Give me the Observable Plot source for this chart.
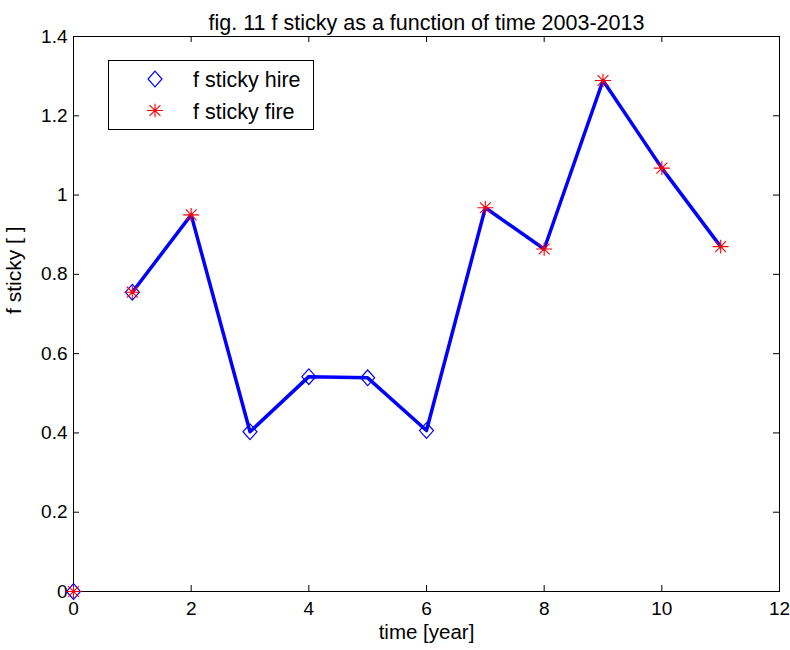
<!DOCTYPE html>
<html><head><meta charset="utf-8">
<script src="https://cdn.jsdelivr.net/npm/d3@7"></script>
<script src="https://cdn.jsdelivr.net/npm/@observablehq/plot@0.6"></script>
<style>body{margin:0;background:#fff}</style>
</head><body><div id="chart"></div>
<script>
const years = [0, 1, 2, 3, 4, 5, 6, 7, 8, 9, 10, 11];
const fSticky = [0, 0.755, 0.950, 0.403, 0.542, 0.539, 0.406, 0.968, 0.864, 1.289, 1.068, 0.870];
const hireYears = [0, 1, 3, 4, 5, 6];
const fireYears = [0, 1, 2, 7, 8, 9, 10, 11];
const lineYears = [1, 2, 3, 4, 5, 6, 7, 8, 9, 10, 11];
const xTicks = [0, 2, 4, 6, 8, 10, 12];
const yTicks = [0, 0.2, 0.4, 0.6, 0.8, 1, 1.2, 1.4];
const yTickLabels = ["0", "0.2", "0.4", "0.6", "0.8", "1", "1.2", "1.4"];
const titleText = "fig. 11 f sticky as a function of time 2003-2013";
const xLabel = "time [year]";
const yLabel = "f sticky [ ]";
const legendLabels = ["f sticky hire", "f sticky fire"];

const rows = years.map((t, i) => ({t, v: fSticky[i]}));
const pick = (ys) => rows.filter(d => ys.includes(d.t));

const W = 790, H = 650, ML = 73, MR = 11, MT = 36, MB = 59;
const FW = W - ML - MR, FH = H - MT - MB;
const FONT = "'Liberation Sans', Arial, Helvetica, sans-serif";

const diamondSym = {
  draw(ctx, size) {
    const r = Math.sqrt(size / Math.PI);
    const h = r * 1.12;
    ctx.moveTo(0, -h); ctx.lineTo(r, 0); ctx.lineTo(0, h); ctx.lineTo(-r, 0); ctx.closePath();
  }
};
const starSym = {
  draw(ctx, size) {
    const r = Math.sqrt(size / Math.PI);
    const d = r * 0.68;
    ctx.moveTo(-r, 0); ctx.lineTo(r, 0);
    ctx.moveTo(0, -r * 0.85); ctx.lineTo(0, r * 0.85);
    ctx.moveTo(-d, -d); ctx.lineTo(d, d);
    ctx.moveTo(-d, d); ctx.lineTo(d, -d);
  }
};

const plot = Plot.plot({
  width: W, height: H,
  marginLeft: ML, marginRight: MR, marginTop: MT, marginBottom: MB,
  x: {domain: [0, 12]},
  y: {domain: [0, 1.4]},
  style: {fontFamily: FONT, fontSize: "19px", color: "black", background: "white", overflow: "visible"},
  marks: [
    Plot.frame({stroke: "black", strokeWidth: 1}),
    Plot.tickX(xTicks, {x: d => d, insetTop: FH - 6, stroke: "black"}),
    Plot.tickX(xTicks, {x: d => d, insetBottom: FH - 6, stroke: "black"}),
    Plot.tickY(yTicks, {y: d => d, insetRight: FW - 6, stroke: "black"}),
    Plot.tickY(yTicks, {y: d => d, insetLeft: FW - 6, stroke: "black"}),
    Plot.axisX(xTicks, {tickSize: 0, tickPadding: 10, label: null, fontSize: 19}),
    Plot.axisY(yTicks, {tickSize: 0, tickPadding: 6, label: null, fontSize: 19,
      tickFormat: d => yTickLabels[yTicks.indexOf(d)]}),
    Plot.line(pick(lineYears), {x: "t", y: "v", stroke: "#0000ff", strokeWidth: 3.5}),
    Plot.dot(pick(hireYears), {x: "t", y: "v", symbol: diamondSym, r: 7, stroke: "#0000ff", fill: "none", strokeWidth: 1.2}),
    Plot.dot(pick(fireYears), {x: "t", y: "v", symbol: starSym, r: 8, stroke: "#ff0000", strokeWidth: 1.1}),
    Plot.text([titleText], {frameAnchor: "top", dy: -22, fontSize: 21.5, fill: "black"}),
    Plot.text([xLabel], {frameAnchor: "bottom", dy: 47, fontSize: 20.5, fill: "black"}),
    Plot.text([yLabel], {frameAnchor: "left", dx: -59, rotate: -90, fontSize: 21, fill: "black"})
  ]
});

// legend
const svg = d3.select(plot);
const lg = svg.append("g").attr("font-family", FONT).attr("font-size", 21.5).attr("text-anchor", "start");
lg.append("rect").attr("x", 108.5).attr("y", 60.5).attr("width", 205).attr("height", 69)
  .attr("fill", "white").attr("stroke", "black");
const legendSyms = [
  {sym: diamondSym, r: 7, color: "#0000ff", w: 1.2},
  {sym: starSym, r: 8, color: "#ff0000", w: 1.1}
];
legendLabels.forEach((lab, i) => {
  const cy = 79 + i * 31.5;
  const s = legendSyms[i];
  lg.append("path")
    .attr("d", d3.symbol(s.sym, Math.PI * s.r * s.r)())
    .attr("transform", `translate(155,${cy})`)
    .attr("fill", "none").attr("stroke", s.color).attr("stroke-width", s.w);
  lg.append("text").attr("x", 193).attr("y", cy + 8).attr("fill", "black").text(lab);
});

document.getElementById("chart").appendChild(plot);
</script>
</body></html>
